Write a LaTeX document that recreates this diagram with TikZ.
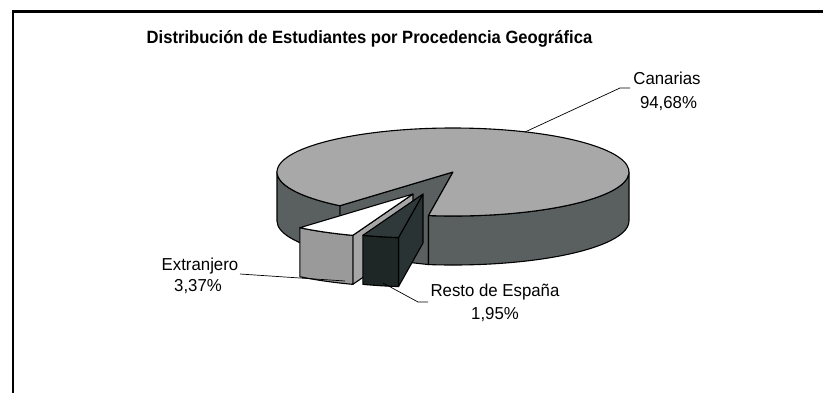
\documentclass[tikz,border=0pt]{standalone}
\usepackage{fontspec}
\setmainfont{Liberation Sans}
\usetikzlibrary{calc}
\definecolor{ctop}{HTML}{A8A8A8}
\definecolor{cside}{HTML}{5A6060}
\definecolor{eside}{HTML}{9A9A9A}
\definecolor{eface}{HTML}{A6A6A6}
\definecolor{rtop}{HTML}{2F3939}
\definecolor{rside}{HTML}{2A3333}
\definecolor{rfront}{HTML}{1E2626}
\begin{document}
\begin{tikzpicture}[x=1pt,y=-1pt,
  face/.style={draw=black, line width=1.1pt, line join=round},
  lead/.style={draw=black, line width=0.7pt},
  lbl/.style={font=\fontsize{16.8}{20}\selectfont, anchor=base, inner sep=0pt, yscale=1.03},
  ttl/.style={font=\bfseries\fontsize{16.6}{20}\selectfont, anchor=base, inner sep=0pt, yscale=1.07},
  er/.style={x radius=176, y radius=44}]
\useasboundingbox (0,0) rectangle (823,392);
\draw[line width=2.4pt] (13.2,393) -- (13.2,11.5) -- (824,11.5);

\node[ttl] (title) at (369.5,43.3) {Distribución de Estudiantes por Procedencia Geográfica};

\coordinate (C) at (453,172);
\coordinate (E) at (413,194);
\coordinate (R) at (423,194);

% Canarias
\path[face, fill=cside] (C) -- ($(C)+(130:176 and 44)$) -- ++(0,49) -- ($(C)+(98:176 and 44)+(0,49)$) -- ($(C)+(98:176 and 44)$) -- cycle;
\path[face, fill=cside] ($(C)+(180:176 and 44)$) arc[start angle=180, end angle=130, er] -- ++(0,49) arc[start angle=130, end angle=180, er] -- cycle;
\path[face, fill=cside] ($(C)+(98:176 and 44)$) arc[start angle=98, end angle=0, er] -- ++(0,49) arc[start angle=0, end angle=98, er] -- cycle;
\path[face, fill=ctop] (C) -- ($(C)+(98:176 and 44)$) arc[start angle=98, end angle=-230, er] -- cycle;

% Extranjero
\path[face, fill=eface] (E) -- ($(E)+(110:176 and 44)$) -- ++(0,49) -- ($(E)+(0,49)$) -- cycle;
\path[face, fill=eside] ($(E)+(110:176 and 44)$) arc[start angle=110, end angle=130, er] -- ++(0,49) arc[start angle=130, end angle=110, er] -- cycle;
\path[face, fill=white] (E) -- ($(E)+(110:176 and 44)$) arc[start angle=110, end angle=130, er] -- cycle;

% Resto de Espana
\path[face, fill=rside] (R) -- ($(R)+(98:176 and 44)$) -- ++(0,49) -- ($(R)+(0,49)$) -- cycle;
\path[face, fill=rfront] ($(R)+(98:176 and 44)$) arc[start angle=98, end angle=110, er] -- ++(0,49) arc[start angle=110, end angle=98, er] -- cycle;
\path[face, fill=rtop] (R) -- ($(R)+(98:176 and 44)$) arc[start angle=98, end angle=110, er] -- cycle;

% labels
\node[lbl] (can1) at (667,84) {Canarias};
\node[lbl] (can2) at (668.5,108.3) {94,68\%};
\node[lbl] (ext1) at (200,270.7) {Extranjero};
\node[lbl] (ext2) at (198,291.7) {3,37\%};
\node[lbl] (res1) at (495,296.7) {Resto de España};
\node[lbl] (res2) at (495,319.3) {1,95\%};

% leaders
\coordinate (canA) at (525,132);
\coordinate (canB) at (620,88);
\coordinate (canC) at (630,88);
\draw[lead] (canA) -- (canB) -- (canC);
\coordinate (extA) at (345,281);
\coordinate (extB) at (240,274);
\draw[lead] (extA) -- (extB);
\coordinate (resA) at (383,283);
\coordinate (resB) at (418,302);
\coordinate (resC) at (428,302);
\draw[lead] (resA) -- (resB) -- (resC);
\end{tikzpicture}
\end{document}
